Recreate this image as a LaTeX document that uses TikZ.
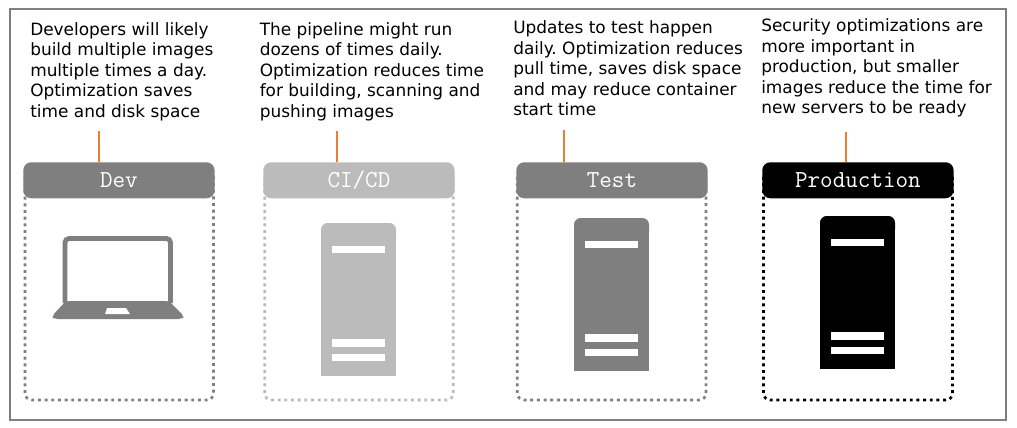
\documentclass[tikz,border=0pt]{standalone}
\usepackage{fontspec}
\setmainfont{DejaVu Sans}
\tikzset{
  x=0.75pt,y=-0.75pt,
  frame/.style={draw=framegray,line width=1.5pt},
  note/.style={anchor=north west,inner sep=0pt,align=left,font=\fontsize{12.7}{15.4}\selectfont\frenchspacing},
  header/.style={rounded corners=6pt,minimum width=143.5pt,minimum height=27pt,inner sep=0pt,text=white,font=\fontsize{18.3}{20}\ttfamily,anchor=north west},
  dotbox/.style={line width=2pt,dash pattern=on 2.2pt off 2.8pt,rounded corners=5pt},
  lead/.style={draw=leadorange,line width=1.5pt},
  bar/.style={fill=white,draw=none},
}
\definecolor{framegray}{HTML}{7F7F7F}
\definecolor{leadorange}{HTML}{ED7D31}
\definecolor{devgray}{HTML}{7F7F7F}
\definecolor{cigray}{HTML}{BBBBBB}
\newcommand{\serverat}[3]{%
  \fill[#3,rounded corners=5pt] (#1,#2+20) -- (#1,#2) -- (#1+75,#2) -- (#1+75,#2+20) -- cycle;
  \fill[#3] (#1,#2+10) rectangle (#1+75,#2+153);
  \fill[bar] (#1+11,#2+22.5) rectangle (#1+64,#2+30);
  \fill[bar] (#1+11,#2+116) rectangle (#1+64,#2+123.5);
  \fill[bar] (#1+11,#2+130.5) rectangle (#1+64,#2+138);
}
\begin{document}
\begin{tikzpicture}
\useasboundingbox (0,0) rectangle (1017,428);
\fill[white] (0,0) rectangle (1017,428);
\draw[frame] (10,9) rectangle (1006,420);

\node[note] (n1) at (30,22) {Developers will likely\\build multiple images\\multiple times a day.\\Optimization saves\\time and disk space};
\node[note] (n2) at (259.5,22) {The pipeline might run\\dozens of times daily.\\Optimization reduces time\\for building, scanning and\\pushing images};
\node[note] (n3) at (513,20.5) {Updates to test happen\\daily. Optimization reduces\\pull time, saves disk space\\and may reduce container\\start time};
\node[note] (n4) at (761,18.5) {Security optimizations are\\more important in\\production, but smaller\\images reduce the time for\\new servers to be ready};

\draw[devgray,dotbox] (25,170) rectangle (213.5,400);
\draw[cigray,dotbox] (264.7,170) rectangle (453.3,400);
\draw[devgray,dotbox] (517.3,170) rectangle (706,400);
\draw[black,dotbox] (763.5,170) rectangle (952.5,400);

\node[header,fill=devgray] (h1) at (23,162) {Dev};
\node[header,fill=cigray] (h2) at (263,162) {CI/CD};
\node[header,fill=devgray] (h3) at (516,162) {Test};
\node[header,fill=black] (h4) at (762,162) {Production};

\coordinate (l1) at (99,131);
\coordinate (l2) at (337,131);
\coordinate (l3) at (564,130);
\coordinate (l4) at (846,132);
\draw[lead] (l1) -- (l1 |- h1.north);
\draw[lead] (l2) -- (l2 |- h2.north);
\draw[lead] (l3) -- (l3 |- h3.north);
\draw[lead] (l4) -- (l4 |- h4.north);

% laptop
\draw[devgray,line width=3.6pt,rounded corners=3pt] (65,303) -- (65,238.5) -- (170.5,238.5) -- (170.5,303);
\fill[devgray,rounded corners=2.5pt] (66,301) -- (169,301) -- (184,316) -- (182,319) -- (54,319) -- (52,316) -- cycle;
\fill[white] (107,308) -- (126,308) -- (130,314) -- (105,314) -- cycle;

\serverat{321}{223}{cigray}
\serverat{574}{218}{devgray}
\serverat{820}{216}{black}
\end{tikzpicture}
\end{document}
